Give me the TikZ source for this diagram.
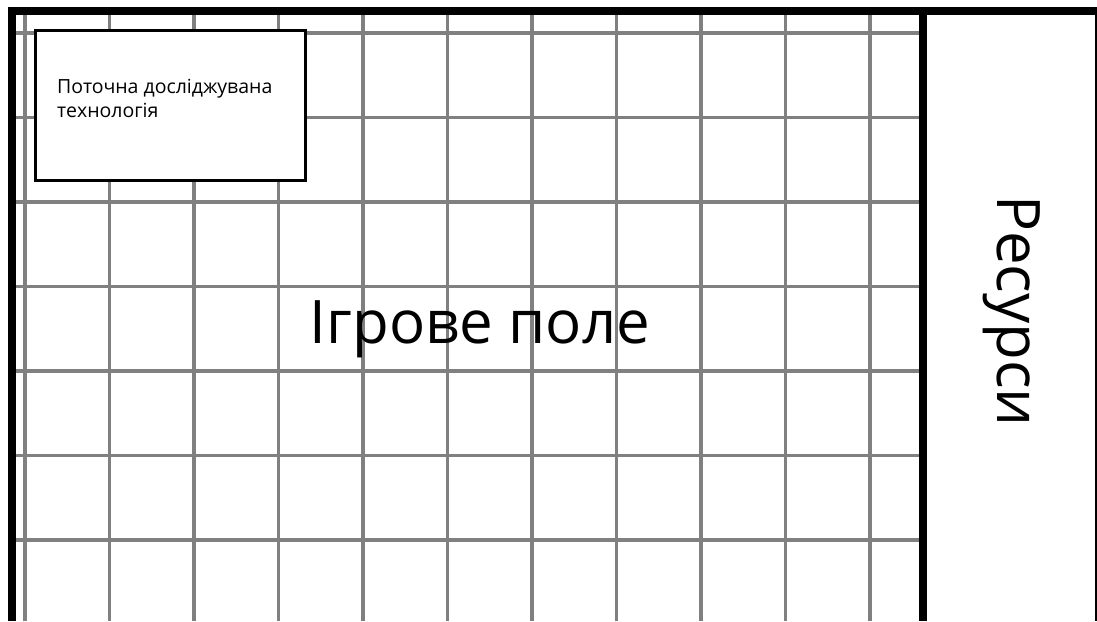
\documentclass[tikz,border=0pt]{standalone}
\usepackage{fontspec}
\setmainfont{Open Sans}
\begin{document}
\begin{tikzpicture}[x=1pt,y=-1pt,
  gridline/.style={draw=black!50,line width=3.5pt},
  frame/.style={draw=black,line width=8pt,line join=miter},
  techbox/.style={draw=black,line width=3pt,fill=white,minimum width=270pt,minimum height=150pt,inner sep=0pt},
  label/.style={inner sep=0pt,text=black}]
\useasboundingbox (0,0) rectangle (1097,621);
\fill[white] (0,0) rectangle (1097,621);
% grid
\foreach \i in {0,...,10}{
  \draw[gridline] (25+84.5*\i,11) -- (25+84.5*\i,621);
}
\foreach \j in {0,...,6}{
  \draw[gridline] (12,33+84.5*\j) -- (923,33+84.5*\j);
}
% frame
\draw[frame] (12,621) -- (12,11) -- (1097,11);
\draw[frame] (923,11) -- (923,621);
\draw[draw=black,line width=2pt] (1096,11) -- (1096,621);
% technology box
\node[techbox] (box) at (170,105) {};
\node[label,anchor=base west,align=left,font=\fontsize{19.5}{24}\selectfont] (boxtext) at (57,117) {Поточна досліджувана\\технологія};
% field label
\node[label,anchor=base,font=\fontsize{60}{64}\selectfont] (field) at (480,343) {Ігрове поле};
% resources
\node[label,anchor=base,rotate=-90,font=\fontsize{60}{64}\selectfont] (res) at (997,311) {Ресурси};
\end{tikzpicture}
\end{document}
